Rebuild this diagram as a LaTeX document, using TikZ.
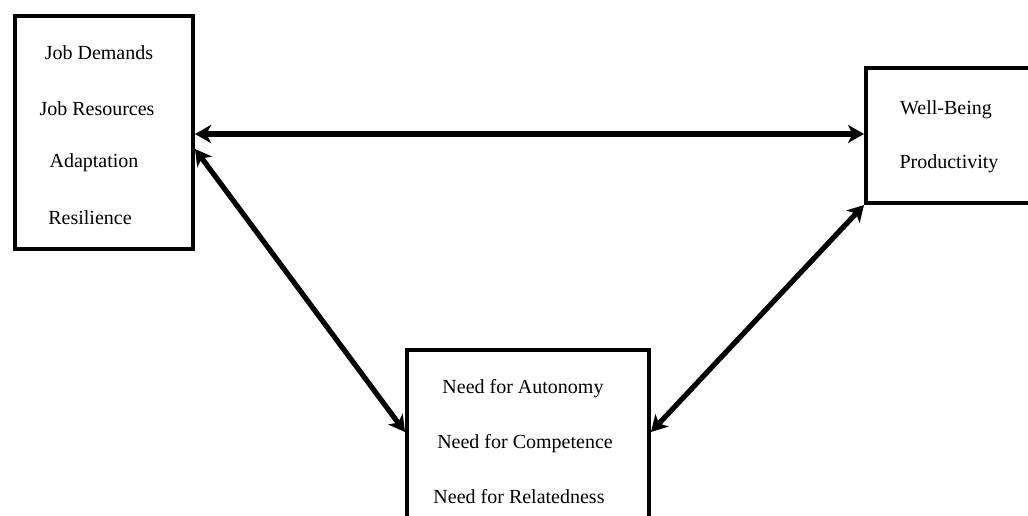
\documentclass[tikz,border=0pt]{standalone}
\usepackage{fontspec}
\setmainfont{Liberation Serif}
\usetikzlibrary{arrows.meta}
\begin{document}
\begin{tikzpicture}[x=0.5pt,y=-0.5pt,
  box/.style={draw=black,line width=2pt,fill=none,inner sep=0pt,minimum width=#1},
  lbl/.style={anchor=base,inner sep=0pt,font=\fontsize{10}{12}\selectfont},
  dbl/.style={line width=2.6pt,{Stealth[length=8pt,width=9pt,inset=2.2pt]}-{Stealth[length=8pt,width=9pt,inset=2.2pt]}}]
\useasboundingbox (0,0) rectangle (1028,515);
% boxes
\node[box=89pt,minimum height=116.5pt,anchor=north west] (L) at (13,14) {};
\node[box=120pt,minimum height=67.5pt,anchor=north west] (R) at (864,66) {};
\node[box=121pt,minimum height=110pt,anchor=north west] (B) at (405,348) {};
% texts
\node[lbl] (t1) at (99,59) {Job Demands};
\node[lbl] (t2) at (97,115) {Job Resources};
\node[lbl] (t3) at (94,167) {Adaptation};
\node[lbl] (t4) at (90,224) {Resilience};
\node[lbl] (t5) at (946,114) {Well-Being};
\node[lbl] (t6) at (949,168) {Productivity};
\node[lbl] (t7) at (523,393) {Need for Autonomy};
\node[lbl] (t8) at (525,448) {Need for Competence};
\node[lbl] (t9) at (519,503) {Need for Relatedness};
% connectors
\draw[dbl] (L.east |- 0,134) -- (R.west |- 0,134);
\draw[dbl] (L.east |- 0,149) -- (B.west |- 0,432);
\draw[dbl] (B.east |- 0,432) -- (R.south west);
\end{tikzpicture}
\end{document}
